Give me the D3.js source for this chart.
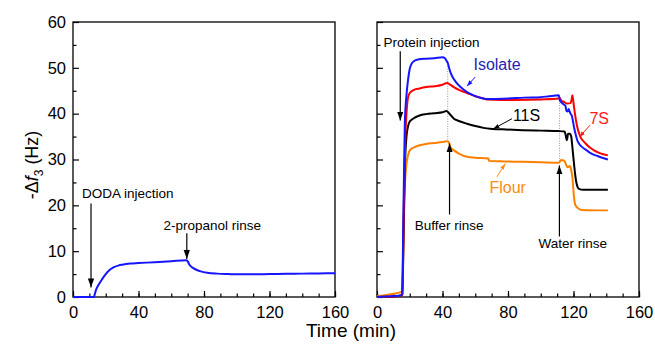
<!DOCTYPE html>
<html lang="en">
  <head>
    <meta charset="UTF-8" />
    <title>QCM-D frequency shift</title>
    <script src="https://d3js.org/d3.v7.min.js"></script>
    <style>
      body {
        margin: 0;
        background: #fff;
      }
      svg text {
        font-family: "Liberation Sans", Arial, sans-serif;
      }
      .tick-label {
        font-size: 16.5px;
      }
      .note {
        font-size: 13.5px;
      }
      .series-label {
        font-size: 16px;
      }
    </style>
  </head>
  <body>
    <div id="chart"></div>

    <script>
      // left panel: DODA layer, [time (min), -df3 (Hz)]
      const doda = [
        [0, 0], [12.6, 0], [14, 1.5], [16, 2.9], [18, 4.0], [20, 5.0], [22, 5.8],
        [25, 6.5], [28, 6.9], [30, 7.05], [35, 7.3], [40, 7.4], [50, 7.6],
        [60, 7.8], [69, 8.0], [70, 7.8], [71, 7.1], [73, 6.4], [75, 6.0],
        [78, 5.6], [82, 5.3], [88, 5.1], [95, 5.0], [100, 4.95], [110, 4.95],
        [120, 5.0], [130, 5.05], [140, 5.1], [150, 5.15], [160, 5.2]
      ];

      // right panel: protein adsorption
      const isolate = [
        [0, 0], [5, 0.1], [10, 0.2], [14.5, 0.4], [15.3, 0.5], [16.2, 20], [17, 38],
        [18, 44], [19, 47.5], [20, 49.8], [21, 50.8], [22, 51.3], [25, 51.8],
        [30, 52.0], [35, 52.1], [40, 52.3], [41.5, 52.1], [42.5, 51.5],
        [43.3, 51.0], [44, 50.0], [45, 48.9], [46.5, 47.8], [48, 47.0],
        [51, 45.8], [55, 44.7], [59, 44.0], [63, 43.5], [67, 43.2], [70, 43.2],
        [80, 43.3], [90, 43.5], [100, 43.6], [105, 43.8], [111, 44.0],
        [111.6, 43.0], [112.5, 42.5], [114, 42.0], [115, 41.8], [115.7, 40.6],
        [116.5, 40.5], [117, 41.0], [117.5, 40.6], [118.2, 40.0], [119, 39.5],
        [120.3, 37.1], [121.3, 35.5], [122.3, 34.2], [123.5, 33.4],
        [125.3, 32.7], [128, 32.0], [130.4, 31.4], [135, 30.7], [141, 30.0]
      ];
      const s7 = [
        [0, 0], [10, 0.1], [14.5, 0.3], [15.5, 0.5], [16.3, 18], [17.2, 34],
        [18, 40], [19, 43.6], [20, 44.5], [22, 45.1], [26, 45.5], [30, 45.8],
        [35, 46.0], [40, 46.3], [42.8, 46.7], [44, 46.5], [46.9, 45.8],
        [50, 45.2], [55, 44.5], [60, 43.8], [65, 43.3], [67, 43.1], [75, 43.0],
        [85, 43.0], [100, 43.1], [111, 43.3], [111.7, 43.4], [112.5, 42.9],
        [114, 42.6], [116.2, 42.2], [118.2, 42.3], [118.8, 43.0], [119.3, 44.0],
        [119.7, 43.2], [120.3, 41.5], [121.3, 39.0], [122.3, 37.1],
        [123.3, 35.8], [124.3, 34.9], [127.4, 33.5], [130, 32.6], [132.5, 32.0],
        [136, 31.4], [141, 30.9]
      ];
      const s11 = [
        [0, 0], [10, 0.1], [14.5, 0.3], [15.5, 0.5], [16.3, 15], [17, 28],
        [18, 35], [19, 37.3], [20, 38.3], [22, 38.9], [26, 39.6], [30, 39.9],
        [35, 40.1], [40, 40.3], [42.5, 40.6], [44, 40.1], [47, 38.9],
        [50, 38.4], [55, 37.8], [60, 37.3], [65, 36.9], [69, 36.7], [75, 36.6],
        [89, 36.4], [100, 36.3], [111, 36.2], [114.5, 36.1], [115.3, 35.2],
        [115.8, 34.2], [116.3, 34.8], [116.6, 35.6], [117.8, 35.6],
        [118.6, 35.0], [119.5, 32.0], [120.3, 29.1], [121.1, 26.5],
        [121.9, 24.7], [123.3, 23.6], [126, 23.4], [141, 23.4]
      ];
      const flour = [
        [0, 0.2], [5, 0.4], [10, 0.7], [14, 1.0], [15.3, 1.2], [16, 10],
        [16.6, 20], [17.3, 26], [18, 29], [19, 31], [20, 32], [23, 32.7],
        [26, 33.1], [30, 33.4], [35, 33.6], [40, 33.8], [42.4, 34.0],
        [43.7, 33.9], [44.5, 33.0], [45.5, 32.4], [47, 32.0], [50, 31.3],
        [55, 30.6], [60, 30.4], [68, 30.2], [68.5, 29.7], [75, 29.6],
        [89, 29.5], [100, 29.4], [111, 29.3], [112, 29.7], [112.5, 29.9],
        [114, 29.8], [115, 29.3], [115.8, 28.6], [116.5, 28.3], [117.2, 28.5],
        [117.8, 28.6], [118.4, 28.0], [119.3, 26.2], [120.3, 21.8],
        [121, 20.2], [122.3, 19.5], [125, 19.0], [141, 18.9]
      ];

      // rinse markers: [time, top, bottom]
      const rinseLines = [
        [43.2, 51.5, 34.0],
        [111.5, 44.0, 29.3]
      ];

      const xTicks = [0, 40, 80, 120, 160];
      const yTicks = [0, 10, 20, 30, 40, 50, 60];

      const W = 655, H = 344;
      const plotTop = 22, plotBottom = 297;
      const leftRange = [73, 335];
      const rightRange = [377, 639];

      const svg = d3
        .select("#chart")
        .append("svg")
        .attr("width", W)
        .attr("height", H);

      const defs = svg.append("defs");
      function marker(id, color, size) {
        defs
          .append("marker")
          .attr("id", id)
          .attr("viewBox", "0 0 10 10")
          .attr("refX", 10)
          .attr("refY", 5)
          .attr("markerUnits", "userSpaceOnUse")
          .attr("markerWidth", size)
          .attr("markerHeight", size)
          .attr("orient", "auto")
          .append("path")
          .attr("d", "M0,1.5 L10,5 L0,8.5 Z")
          .attr("fill", color);
      }
      marker("arr-black", "#000", 9);
      marker("arr-small", "#000", 6);
      marker("arr-blue", "#1515ff", 6);
      marker("arr-red", "#ff1a1a", 6);
      marker("arr-orange", "#ff8a14", 6);

      const y = d3.scaleLinear().domain([0, 60]).range([plotBottom, plotTop]);

      function makePanel(range, showYLabels) {
        const x = d3.scaleLinear().domain([0, 160]).range(range);
        const g = svg.append("g");

        // minor ticks
        g.append("g")
          .attr("transform", `translate(0,${plotBottom})`)
          .call(
            d3.axisBottom(x)
              .tickValues(d3.range(0, 161, 10))
              .tickSize(-3.5)
              .tickFormat("")
          )
          .call((a) => a.select(".domain").remove());
        g.append("g")
          .attr("transform", `translate(${range[0]},0)`)
          .call(
            d3.axisLeft(y)
              .tickValues(d3.range(5, 60, 10))
              .tickSize(-3.5)
              .tickFormat("")
          )
          .call((a) => a.select(".domain").remove());

        // major ticks + labels
        const xa = g.append("g")
          .attr("transform", `translate(0,${plotBottom})`)
          .call(d3.axisBottom(x).tickValues(xTicks).tickSize(-6).tickPadding(9))
          .call((a) => a.select(".domain").remove());
        xa.selectAll("text").attr("class", "tick-label").attr("fill", "#000");

        const ya = g.append("g")
          .attr("transform", `translate(${range[0]},0)`)
          .call(
            d3.axisLeft(y)
              .tickValues(yTicks)
              .tickSize(-6)
              .tickPadding(7)
              .tickFormat(showYLabels ? d3.format("d") : "")
          )
          .call((a) => a.select(".domain").remove());
        ya.selectAll("text").attr("class", "tick-label").attr("fill", "#000");

        g.selectAll(".tick line").attr("stroke", "#000").attr("stroke-width", 1.2);

        // frame
        g.append("rect")
          .attr("x", range[0])
          .attr("y", plotTop)
          .attr("width", range[1] - range[0])
          .attr("height", plotBottom - plotTop)
          .attr("fill", "none")
          .attr("stroke", "#000")
          .attr("stroke-width", 1.3);

        return { x, g };
      }

      const left = makePanel(leftRange, true);
      const right = makePanel(rightRange, false);

      function drawLine(panel, data, color) {
        const line = d3
          .line()
          .x((d) => panel.x(d[0]))
          .y((d) => y(d[1]))
          .curve(d3.curveMonotoneX);
        panel.g
          .append("path")
          .datum(data)
          .attr("d", line)
          .attr("fill", "none")
          .attr("stroke", color)
          .attr("stroke-width", 2)
          .attr("stroke-linejoin", "round");
      }

      function arrow(panel, t1, v1, t2, v2, id, color, w) {
        panel.g
          .append("line")
          .attr("x1", panel.x(t1))
          .attr("y1", y(v1))
          .attr("x2", panel.x(t2))
          .attr("y2", y(v2))
          .attr("stroke", color)
          .attr("stroke-width", w)
          .attr("marker-end", `url(#${id})`);
      }

      function label(panel, t, v, txt, cls, color, anchor) {
        panel.g
          .append("text")
          .attr("class", cls)
          .attr("x", panel.x(t))
          .attr("y", y(v))
          .attr("fill", color)
          .attr("text-anchor", anchor || "start")
          .text(txt);
      }

      // left panel
      drawLine(left, doda, "#1515ff");
      label(left, 5.5, 21.5, "DODA injection", "note", "#000");
      arrow(left, 11, 20.4, 11, 2.1, "arr-black", "#000", 1.2);
      label(left, 55.3, 14.6, "2-propanol rinse", "note", "#000");
      arrow(left, 69.5, 13.9, 69.5, 8.3, "arr-black", "#000", 1.2);

      // right panel: dotted rinse lines
      right.g
        .selectAll(".rinse")
        .data(rinseLines)
        .enter()
        .append("line")
        .attr("x1", (d) => right.x(d[0]))
        .attr("x2", (d) => right.x(d[0]))
        .attr("y1", (d) => y(d[1]))
        .attr("y2", (d) => y(d[2]))
        .attr("stroke", "#777")
        .attr("stroke-width", 0.8)
        .attr("stroke-dasharray", "1,1.5");

      drawLine(right, flour, "#ff8000");
      drawLine(right, s11, "#000");
      drawLine(right, s7, "#ff0000");
      drawLine(right, isolate, "#1515ff");

      label(right, 4.0, 54.5, "Protein injection", "note", "#000");
      arrow(right, 14.2, 53.6, 14.2, 38.5, "arr-black", "#000", 1.2);
      label(right, 44.1, 14.6, "Buffer rinse", "note", "#000", "middle");
      arrow(right, 44.3, 18, 44.3, 33.5, "arr-black", "#000", 1.2);
      label(right, 119.5, 10.8, "Water rinse", "note", "#000", "middle");
      arrow(right, 111.4, 13.2, 111.4, 28.7, "arr-black", "#000", 1.2);

      label(right, 58.9, 49.5, "Isolate", "series-label", "#2424b4");
      arrow(right, 60, 48.0, 54.9, 46.0, "arr-blue", "#1515ff", 1);
      label(right, 83, 38.3, "11S", "series-label", "#000");
      arrow(right, 82.4, 38.9, 71.1, 36.7, "arr-small", "#000", 1);
      label(right, 129.7, 37.8, "7S", "series-label", "#ff1a1a");
      arrow(right, 130.1, 37.5, 123.6, 34.9, "arr-red", "#ff1a1a", 1);
      label(right, 68.7, 22.6, "Flour", "series-label", "#ff8a14");
      arrow(right, 73.2, 26.2, 78.3, 29.1, "arr-orange", "#ff8a14", 1);

      // axis titles
      svg
        .append("text")
        .attr("x", 351)
        .attr("y", 336.5)
        .attr("text-anchor", "middle")
        .style("font-size", "19px")
        .text("Time (min)");

      const yt = svg
        .append("text")
        .attr("transform", "translate(38,165) rotate(-90)")
        .attr("text-anchor", "middle")
        .style("font-size", "18px");
      yt.append("tspan").text("-Δ");
      yt.append("tspan").style("font-style", "italic").text("f");
      yt.append("tspan").attr("dy", 5).style("font-size", "12px").text("3");
      yt.append("tspan").attr("dy", -5).text(" (Hz)");
    </script>
  </body>
</html>
